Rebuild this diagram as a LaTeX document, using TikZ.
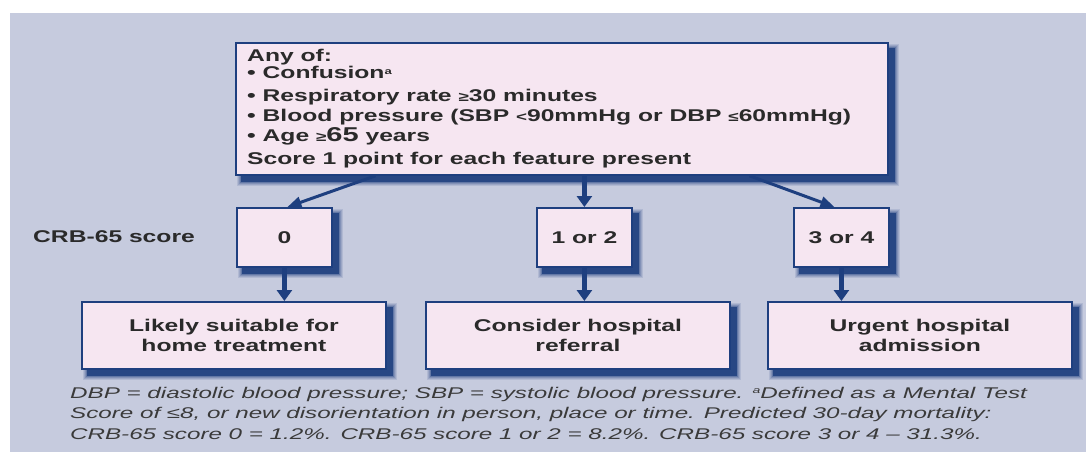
\documentclass[tikz,border=0pt]{standalone}
\usepackage{fontspec}
\setmainfont{Liberation Sans}[FakeStretch=1.45]
\newfontfamily\notefont{Liberation Sans}[FakeStretch=1.56]
\usetikzlibrary{arrows.meta,calc}

\definecolor{pagebg}{HTML}{C6CBDE}
\definecolor{boxfill}{HTML}{F6E6F1}
\definecolor{navy}{HTML}{1E3F7F}
\definecolor{inktext}{HTML}{2A2A2A}
\definecolor{notetext}{HTML}{3A3A3A}

\pgfdeclarelayer{back}
\pgfdeclarelayer{shade}
\pgfsetlayers{back,shade,main}

\tikzset{
  card/.style={draw=navy, line width=1.8pt, fill=boxfill, inner sep=0pt,
    text=inktext, font=\fontsize{17}{20}\selectfont\bfseries, align=center},
  scorebox/.style={card, minimum width=95pt, minimum height=59pt},
  outcome/.style={card, minimum width=304pt, minimum height=67pt},
  plainlabel/.style={inner sep=0pt, text=inktext, font=\fontsize{17}{20}\selectfont\bfseries},
  thickarrow/.style={draw=navy, line width=5pt, -{Triangle[width=15pt,length=11pt]}},
  thinarrow/.style={draw=navy, line width=3pt, -{Triangle[width=11pt,length=14pt]}},
}

% small relation signs and superscript marks as printed in the criteria
\newcommand\smallrel[1]{{\fontsize{13}{13}\selectfont #1}}
\newcommand\notemark{\raisebox{0.55ex}{\fontsize{9}{9}\selectfont a}}

% soft navy drop shadow behind a box, offset to the lower right
\newcommand\castshadow[1]{%
  \begin{pgfonlayer}{shade}
    \foreach \gr/\op in {4/0.12,3/0.15,2/0.2,1/0.3}{%
      \fill[navy,opacity=\op] ($(#1.north west)+(6-\gr,6-\gr)$) rectangle ($(#1.south east)+(6+\gr,6+\gr)$);}
    \fill[navy,opacity=0.85] ($(#1.north west)+(6,6)$) rectangle ($(#1.south east)+(6,6)$);
  \end{pgfonlayer}}

\begin{document}
\begin{tikzpicture}[x=1pt,y=-1pt]
\path[use as bounding box] (0,0) rectangle (1086,452);
\begin{pgfonlayer}{back}
  \fill[white] (0,0) rectangle (1086,452);
  \fill[pagebg] (10,13) rectangle (1086,452);
\end{pgfonlayer}

% criteria box
\node[card, minimum width=652pt, minimum height=132pt, anchor=north west] (topbox) at (235,42) {};
\node[plainlabel, anchor=base west] (criteria) at (247,61.7) {\parbox[t]{630pt}{%
  Any of:\\[-2.7pt]
  • Confusion\notemark\\[2.7pt]
  • Respiratory rate \smallrel{≥}30 minutes\\
  • Blood pressure (SBP \smallrel{<}90mmHg or DBP \smallrel{≤}60mmHg)\\
  • Age \smallrel{≥}{\fontsize{20}{20}\selectfont 65} years\\[3.3pt]
  Score 1 point for each feature present}};

% score row
\node[plainlabel, anchor=base west] (scorelabel) at (33,242.7) {CRB-65 score};
\node[scorebox, anchor=north west] (s0) at (236,207) {0};
\node[scorebox, anchor=north west] (s12) at (536,207) {1 or 2};
\node[scorebox, anchor=north west] (s34) at (793,207) {3 or 4};

% outcomes
\node[outcome, anchor=north west] (r0) at (81,301) {Likely suitable for\\home treatment};
\node[outcome, anchor=north west] (r12) at (425,301) {Consider hospital\\referral};
\node[outcome, anchor=north west] (r34) at (767,301) {Urgent hospital\\admission};

\foreach \b in {topbox,s0,s12,s34,r0,r12,r34}{\castshadow{\b}}

% connectors
\draw[thinarrow] ($(topbox.south west)!0.215!(topbox.south east)$) -- ([xshift=3pt]s0.north);
\draw[thickarrow] (topbox.south -| s12.north) -- (s12.north);
\draw[thinarrow] ($(topbox.south west)!0.787!(topbox.south east)$) -- ([xshift=-7pt]s34.north);
\draw[thickarrow] (s0.south) -- (s0.south |- r0.north);
\draw[thickarrow] (s12.south) -- (s12.south |- r12.north);
\draw[thickarrow] (s34.south) -- (s34.south |- r34.north);

% footnote
\node[inner sep=0pt, anchor=base west, text=notetext,
      font=\notefont\fontsize{15.5}{20.5}\selectfont\itshape] (note) at (70,398) {\parbox[t]{1010pt}{%
  DBP = diastolic blood pressure; SBP = systolic blood pressure. \raisebox{0.6ex}{\fontsize{9}{9}\selectfont a}Defined as a Mental Test\\
  Score of ≤8, or new disorientation in person, place or time. Predicted 30-day mortality:\\
  CRB-65 score 0 = 1.2\%. CRB-65 score 1 or 2 = 8.2\%. CRB-65 score 3 or 4 – 31.3\%.}};
\end{tikzpicture}
\end{document}
